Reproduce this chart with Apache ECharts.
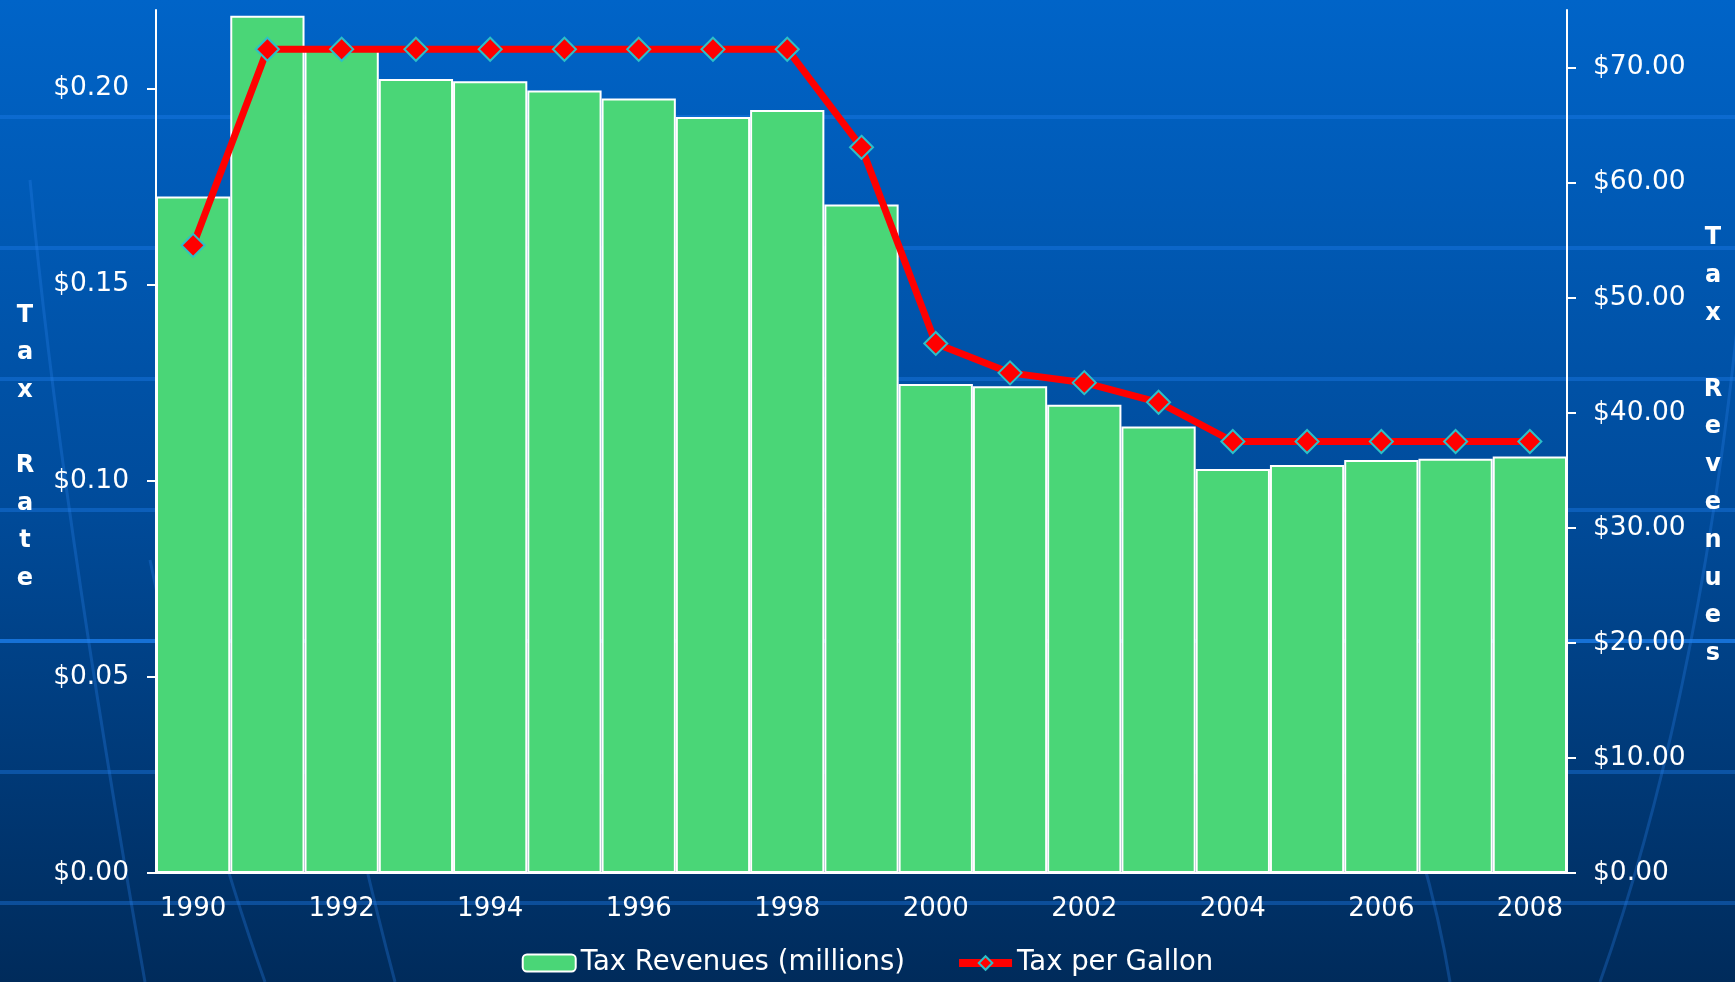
<!DOCTYPE html>
<html>
<head>
<meta charset="utf-8">
<script src="https://cdn.jsdelivr.net/npm/echarts@6/dist/echarts.min.js"></script>
<style>
  html, body { margin: 0; padding: 0; }
  #chart { width: 1735px; height: 982px; }
</style>
</head>
<body>
<div id="chart"></div>
<script>
const years = ['1990', '1991', '1992', '1993', '1994', '1995', '1996', '1997', '1998', '1999',
  '2000', '2001', '2002', '2003', '2004', '2005', '2006', '2007', '2008']
// millions of dollars
const revenues = [58.8, 74.5, 71.6, 69.0, 68.8, 68.0, 67.3, 65.7, 66.3, 58.1,
  42.5, 42.3, 40.7, 38.8, 35.1, 35.45, 35.9, 36.0, 36.2]
// dollars per gallon
const taxPerGallon = [0.16, 0.21, 0.21, 0.21, 0.21, 0.21, 0.21, 0.21, 0.21, 0.185,
  0.135, 0.1275, 0.125, 0.12, 0.11, 0.11, 0.11, 0.11, 0.11]
const rateTicks = [0, 0.05, 0.1, 0.15, 0.2]
const revenueTicks = [0, 10, 20, 30, 40, 50, 60, 70]

const font = 'DejaVu Sans'
const white = '#ffffff'

// background stripes and faint globe curves
const stripes = [117, 248, 379, 510, 641, 772, 903].map((y, i) => ({
  type: 'rect',
  silent: true,
  z: -10,
  shape: { x: 0, y: y - 2, width: 1735, height: 4 },
  style: { fill: i === 4 ? 'rgba(30,130,240,0.75)' : 'rgba(30,125,235,0.4)' },
}))
const curves = [
  [30, 180, 60, 500, 145, 982],
  [150, 560, 200, 800, 265, 982],
  [330, 700, 360, 850, 395, 982],
  [1740, 300, 1700, 700, 1600, 982],
  [1420, 850, 1440, 920, 1450, 982],
].map((c) => ({
  type: 'bezierCurve',
  silent: true,
  z: -9,
  shape: { x1: c[0], y1: c[1], cpx1: c[2], cpy1: c[3], x2: c[4], y2: c[5] },
  style: { stroke: 'rgba(40,130,235,0.3)', lineWidth: 3, fill: null },
}))

// stacked-letter axis titles
const titles = [
  { x: 25, y: 447, text: 'T\na\nx\n\nR\na\nt\ne', lh: 37.6 },
  { x: 1713, y: 446, text: 'T\na\nx\n\nR\ne\nv\ne\nn\nu\ne\ns', lh: 37.8 },
].map((t) => ({
  type: 'text',
  x: t.x,
  y: t.y,
  style: {
    text: t.text,
    fill: white,
    font: 'bold 24px "DejaVu Sans"',
    lineHeight: t.lh,
    align: 'center',
    verticalAlign: 'middle',
  },
}))

const chart = echarts.init(document.getElementById('chart'))
chart.setOption({
  backgroundColor: {
    type: 'linear', x: 0, y: 0, x2: 0, y2: 1,
    colorStops: [
      { offset: 0, color: '#0064c8' },
      { offset: 0.5, color: '#004c9c' },
      { offset: 1, color: '#002b5b' },
    ],
  },
  textStyle: { fontFamily: font },
  graphic: stripes.concat(curves, titles),
  grid: { left: 156, right: 168, top: 10, bottom: 109 },
  legend: {
    bottom: 0,
    left: 'center',
    itemWidth: 53,
    itemHeight: 17,
    itemGap: 50,
    textStyle: { color: white, fontSize: 27.5, fontFamily: font },
    data: [
      { name: 'Tax Revenues (millions)' },
      { name: 'Tax per Gallon', lineStyle: { width: 8 } },
    ],
  },
  xAxis: {
    type: 'category',
    data: years,
    boundaryGap: true,
    axisLine: { lineStyle: { color: white, width: 2 } },
    axisTick: { interval: 0, length: 9, lineStyle: { color: white, width: 2 } },
    axisLabel: { interval: 1, color: white, fontSize: 26, margin: 23 },
  },
  yAxis: [
    {
      type: 'value',
      min: 0,
      max: 0.22,
      interval: 0.05,
      splitLine: { show: false },
      axisLine: { show: true, lineStyle: { color: white, width: 2 } },
      axisTick: { show: true, length: 9, customValues: rateTicks, lineStyle: { color: white, width: 2 } },
      axisLabel: {
        color: white, fontSize: 26.5, margin: 27, customValues: rateTicks,
        formatter: (v) => '$' + v.toFixed(2),
      },
    },
    {
      type: 'value',
      min: 0,
      max: 75,
      interval: 10,
      splitLine: { show: false },
      axisLine: { show: true, lineStyle: { color: white, width: 2 } },
      axisTick: { show: true, length: 9, customValues: revenueTicks, lineStyle: { color: white, width: 2 } },
      axisLabel: {
        color: white, fontSize: 26.5, margin: 26, customValues: revenueTicks,
        formatter: (v) => '$' + v.toFixed(2),
      },
    },
  ],
  series: [
    {
      name: 'Tax Revenues (millions)',
      type: 'bar',
      yAxisIndex: 1,
      barCategoryGap: '0%',
      data: revenues,
      itemStyle: { color: '#4ad677', borderColor: white, borderWidth: 2 },
    },
    {
      name: 'Tax per Gallon',
      type: 'line',
      yAxisIndex: 0,
      data: taxPerGallon,
      symbol: 'diamond',
      symbolSize: 23,
      lineStyle: { color: '#ff0000', width: 7 },
      itemStyle: { color: '#ff0000', borderColor: '#2cc0c8', borderWidth: 2 },
      z: 5,
    },
  ],
})
</script>
</body>
</html>
